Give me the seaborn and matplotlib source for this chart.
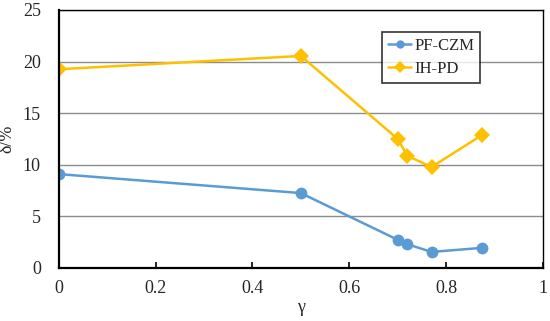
import numpy as np
import pandas as pd
import matplotlib
matplotlib.use('Agg')
import matplotlib.pyplot as plt
import seaborn as sns

# values
gamma = [0.0, 0.5, 0.7, 0.72, 0.77, 0.875]
pf_czm = [9.08, 7.24, 2.71, 2.28, 1.53, 1.93]
ih_pd = [19.25, 20.54, 12.5, 10.85, 9.77, 12.89]
series_names = ['PF-CZM', 'IH-PD']

df = pd.DataFrame({'gamma': gamma * 2,
                   'delta': pf_czm + ih_pd,
                   'method': [series_names[0]] * len(gamma) + [series_names[1]] * len(gamma)})

sns.set_theme(style="white")
plt.rcParams['font.family'] = ['Liberation Serif', 'DejaVu Serif']

fig, ax = plt.subplots(figsize=(5.5, 3.21), dpi=100)
fig.subplots_adjust(left=0.107, right=0.987, top=0.969, bottom=0.166)

palette = {'PF-CZM': '#5B9BD5', 'IH-PD': '#FFC000'}
sns.lineplot(data=df, x='gamma', y='delta', hue='method', style='method',
             markers={'PF-CZM': 'o', 'IH-PD': 'D'}, dashes=False,
             palette=palette, linewidth=1.8, markersize=8.5, markeredgewidth=0,
             ax=ax)

ax.set_xlim(0, 1)
ax.set_ylim(0, 25)
ax.set_xticks(np.arange(0, 1.01, 0.2))
ax.set_xticklabels(['0', '0.2', '0.4', '0.6', '0.8', '1'])
ax.set_yticks(range(0, 26, 5))
ax.yaxis.grid(True, color='#8c8c8c', linewidth=1.0)
ax.set_axisbelow(True)

for s in ax.spines.values():
    s.set_color('black')
    s.set_linewidth(1.0)
ax.spines['left'].set_linewidth(1.6)
ax.spines['bottom'].set_linewidth(1.6)

ax.tick_params(axis='x', direction='in', length=4, width=1.2, color='black',
               labelsize=13, pad=9, bottom=True)
ax.tick_params(axis='y', length=0, labelsize=13, pad=13)

ax.set_xlabel('γ', fontsize=13, labelpad=1)
ax.set_ylabel('δ/%', fontsize=13, labelpad=5)

leg = ax.legend(loc='upper left', bbox_to_anchor=(0.668, 0.915), frameon=True,
                fancybox=False, fontsize=12, handlelength=1.4,
                handletextpad=0.2, borderpad=0.35, labelspacing=0.45,
                borderaxespad=0)
leg.get_frame().set_edgecolor('black')
leg.get_frame().set_linewidth(1.2)
for h in leg.legend_handles:
    h.set_markersize(6)

fig.savefig('out.png', dpi=100)
